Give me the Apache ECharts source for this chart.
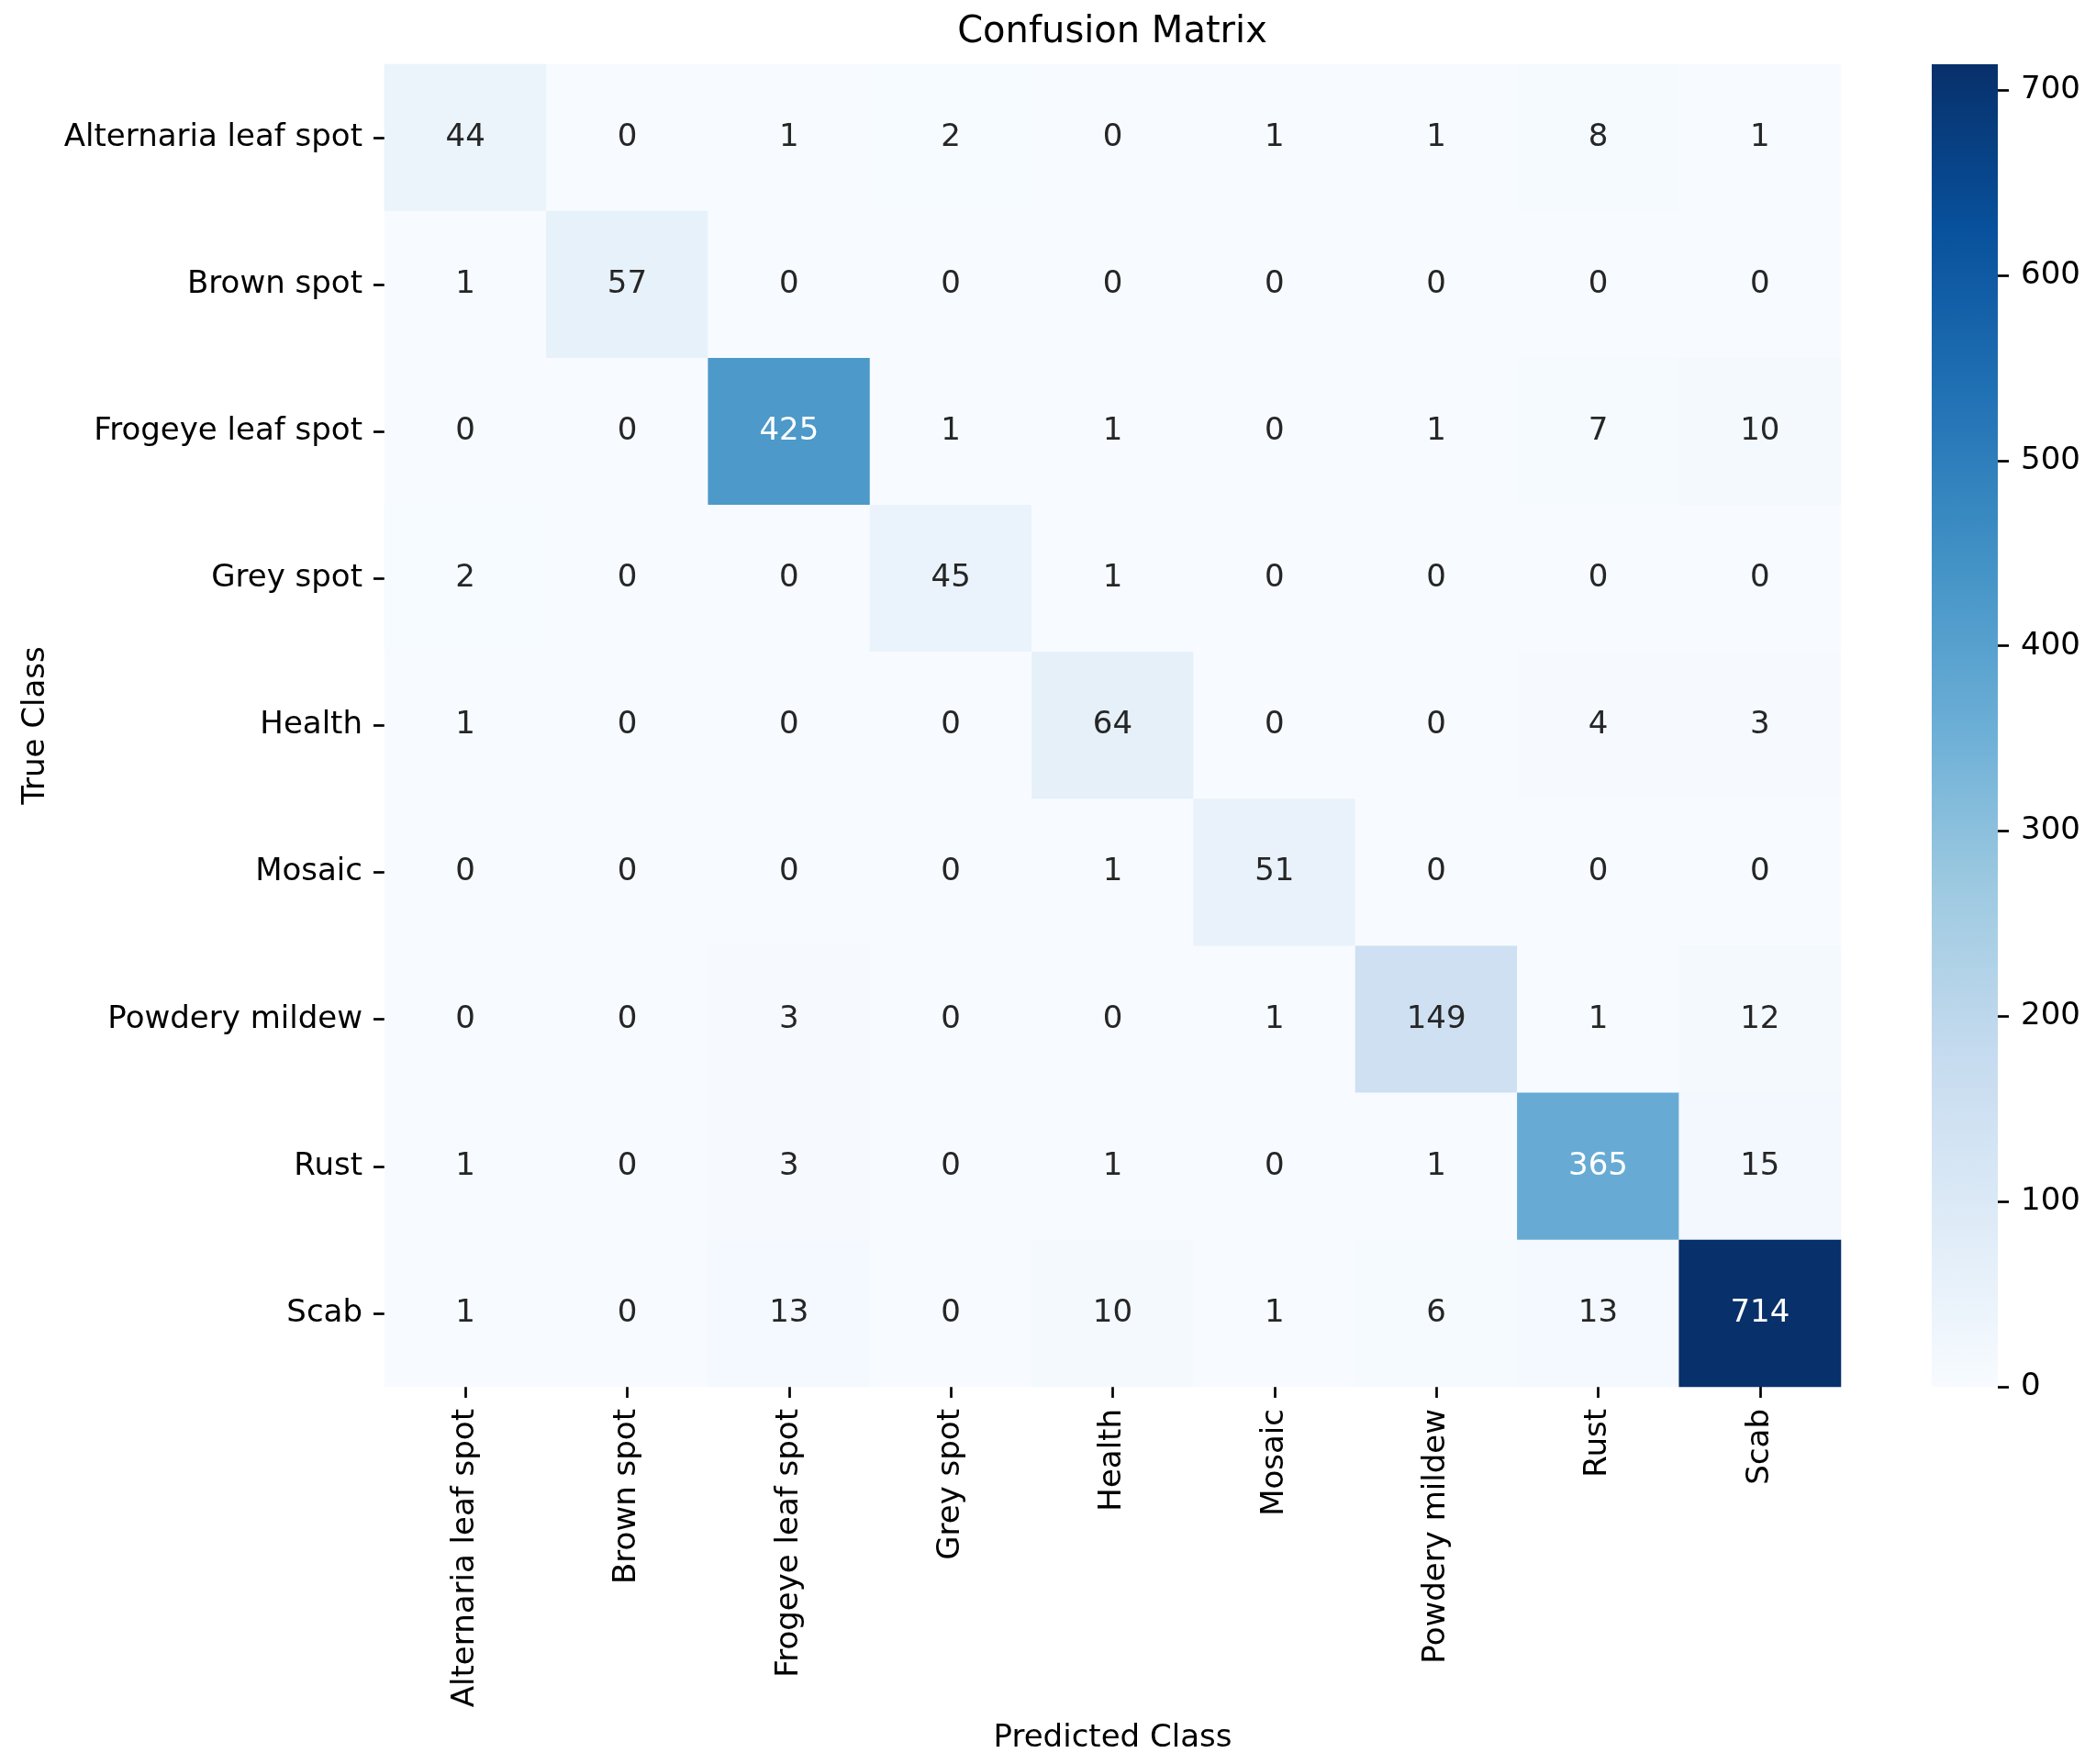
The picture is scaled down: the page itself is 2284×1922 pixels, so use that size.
<!DOCTYPE html>
<html>
<head>
<meta charset="utf-8">
<script src="https://cdn.jsdelivr.net/npm/echarts@6/dist/echarts.min.js"></script>
<style>
html,body{margin:0;padding:0;background:#fff;}
#chart{width:2284px;height:1922px;}
</style>
</head>
<body>
<div id="chart"></div>
<script>
const classes = ["Alternaria leaf spot","Brown spot","Frogeye leaf spot","Grey spot","Health","Mosaic","Powdery mildew","Rust","Scab"];
const rowAlternaria = [44,0,1,2,0,1,1,8,1];
const rowBrown      = [1,57,0,0,0,0,0,0,0];
const rowFrogeye    = [0,0,425,1,1,0,1,7,10];
const rowGrey       = [2,0,0,45,1,0,0,0,0];
const rowHealth     = [1,0,0,0,64,0,0,4,3];
const rowMosaic     = [0,0,0,0,1,51,0,0,0];
const rowPowdery    = [0,0,3,0,0,1,149,1,12];
const rowRust       = [1,0,3,0,1,0,1,365,15];
const rowScab       = [1,0,13,0,10,1,6,13,714];
const colorbarTicks = [0,100,200,300,400,500,600,700];
const matrix = [rowAlternaria,rowBrown,rowFrogeye,rowGrey,rowHealth,rowMosaic,rowPowdery,rowRust,rowScab];

const blues = ['#f7fbff','#deebf7','#c6dbef','#9ecae1','#6baed6','#4292c6','#2171b5','#08519c','#08306b'];
let vmin = Infinity, vmax = -Infinity;
matrix.forEach(r => r.forEach(v => { vmin = Math.min(vmin, v); vmax = Math.max(vmax, v); }));

function hexToRgb(h){ return [parseInt(h.slice(1,3),16),parseInt(h.slice(3,5),16),parseInt(h.slice(5,7),16)]; }
function cmap(t){
  t = Math.max(0, Math.min(1, t));
  const p = t * (blues.length - 1);
  const i = Math.min(Math.floor(p), blues.length - 2);
  const f = p - i;
  const a = hexToRgb(blues[i]), b = hexToRgb(blues[i+1]);
  return a.map((c, k) => c + (b[k] - c) * f);
}
function textColorFor(v){
  const rgb = cmap((v - vmin) / (vmax - vmin)).map(c => {
    c = c / 255;
    return c <= 0.03928 ? c / 12.92 : Math.pow((c + 0.055) / 1.055, 2.4);
  });
  const lum = 0.2126 * rgb[0] + 0.7152 * rgb[1] + 0.0722 * rgb[2];
  return lum > 0.408 ? '#262626' : '#ffffff';
}

const heatData = [];
matrix.forEach((row, r) => row.forEach((v, c) => {
  heatData.push({ value: [c, r, v], label: { color: textColorFor(v) } });
}));

const FONT = 'DejaVu Sans';
const chart = echarts.init(document.getElementById('chart'), null, { renderer: 'canvas' });
chart.setOption({
  backgroundColor: '#ffffff',
  animation: false,
  title: {
    text: 'Confusion Matrix',
    left: 1212, top: 16, padding: 0, textAlign: 'center',
    textStyle: { fontFamily: FONT, fontSize: 40, fontWeight: 'normal', color: '#000' }
  },
  grid: [
    { left: 419, top: 70, width: 1587, height: 1441, containLabel: false },
    { left: 2105, top: 70, width: 72, height: 1441, containLabel: false }
  ],
  xAxis: [
    {
      type: 'category', gridIndex: 0, data: classes, position: 'bottom',
      name: 'Predicted Class', nameLocation: 'middle', nameGap: 366,
      nameTextStyle: { fontFamily: FONT, fontSize: 34, color: '#000' },
      axisLine: { show: false },
      axisTick: { show: true, alignWithLabel: true, interval: 0, length: 12, lineStyle: { color: '#000', width: 2.7 } },
      axisLabel: { interval: 0, rotate: 90, margin: 24, fontFamily: FONT, fontSize: 34, color: '#000' },
      splitLine: { show: false }
    },
    { type: 'category', gridIndex: 1, data: [''], show: false }
  ],
  yAxis: [
    {
      type: 'category', gridIndex: 0, data: classes, inverse: true,
      name: 'True Class', nameLocation: 'middle', nameGap: 363,
      nameTextStyle: { fontFamily: FONT, fontSize: 34, color: '#000' },
      axisLine: { show: false },
      axisTick: { show: true, alignWithLabel: true, interval: 0, length: 12, lineStyle: { color: '#000', width: 2.7 } },
      axisLabel: { interval: 0, margin: 24, fontFamily: FONT, fontSize: 34, color: '#000' },
      splitLine: { show: false }
    },
    {
      type: 'value', gridIndex: 1, position: 'right', min: vmin, max: vmax,
      axisLine: { show: false },
      axisTick: { show: true, length: 12, customValues: colorbarTicks, lineStyle: { color: '#000', width: 2.7 } },
      axisLabel: { margin: 25, customValues: colorbarTicks, fontFamily: FONT, fontSize: 34, color: '#000' },
      splitLine: { show: false }
    }
  ],
  visualMap: {
    show: false, type: 'continuous', seriesIndex: 0, dimension: 2,
    min: vmin, max: vmax, inRange: { color: blues }
  },
  series: [
    {
      type: 'heatmap', xAxisIndex: 0, yAxisIndex: 0, data: heatData,
      label: { show: true, fontFamily: FONT, fontSize: 34, formatter: p => String(p.value[2]) },
      itemStyle: { borderWidth: 0 },
      emphasis: { disabled: true }, silent: true
    },
    {
      type: 'bar', xAxisIndex: 1, yAxisIndex: 1, data: [vmax], barWidth: '100%', silent: true,
      itemStyle: {
        color: new echarts.graphic.LinearGradient(0, 1, 0, 0,
          blues.map((c, i) => ({ offset: i / (blues.length - 1), color: c })))
      }
    }
  ]
});
</script>
</body>
</html>
